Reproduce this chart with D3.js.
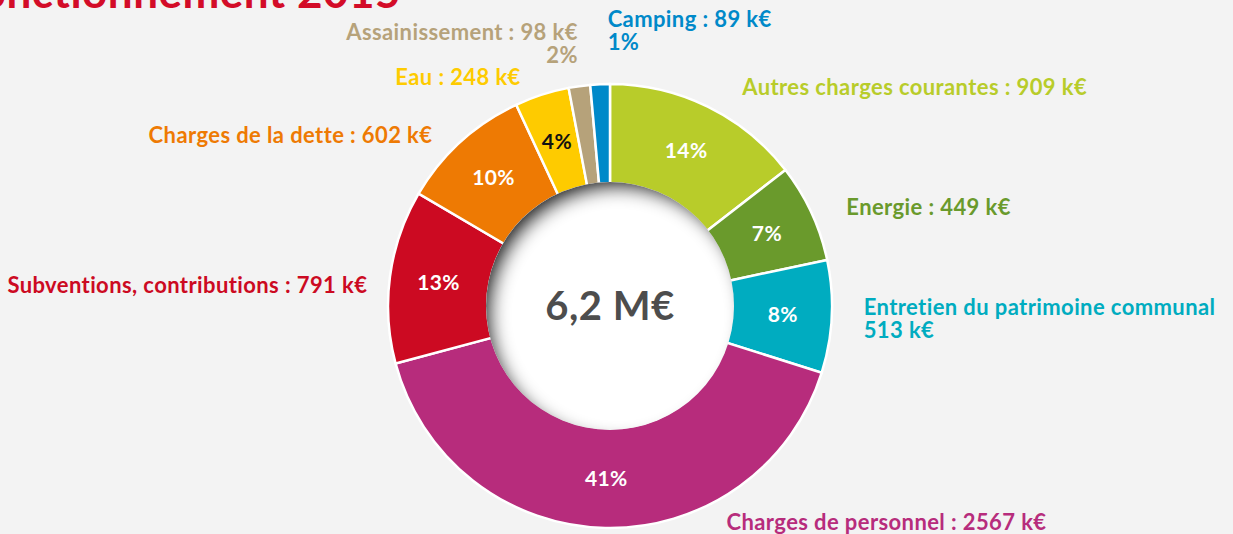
<!DOCTYPE html>
<html>
<head>
<meta charset="utf-8">
<script src="https://cdn.jsdelivr.net/npm/d3@7"></script>
<style>
  html, body { margin: 0; padding: 0; background: #f3f3f3; }
  svg { display: block; font-family: Lato, "Open Sans", sans-serif; font-weight: 700; }
</style>
</head>
<body>
<svg width="1233" height="534"></svg>
<script>
// Data
const categories = [
    "Autres charges courantes", "Energie", "Entretien du patrimoine communal",
    "Charges de personnel", "Subventions, contributions", "Charges de la dette",
    "Eau", "Assainissement", "Camping"
];
const amounts = [909, 449, 513, 2567, 791, 602, 248, 98, 89];   // k€
const percents = [14, 7, 8, 41, 13, 10, 4, 2, 1];
const colors = ["#b8cc2a", "#6a9a2c", "#00acc0", "#b72c7c", "#cc0a22", "#ee7a03", "#fecb00", "#b6a27a", "#0089c9"];
const totalLabel = "6,2 M€";
const title = "Dépenses de fonctionnement 2015";

const width = 1233, height = 534;
const cx = 610, cy = 306;
const outerR = 222, innerR = 124, labelR = 255;

// label layout: nudges from the outer anchor point, anchor, split lines, pct inside/outside
const labelLayout = [
    {dx: 20, dy: 18, anchor: "start"},
    {dx: 5, dy: 16, anchor: "start"},
    {dx: -1, dy: -3, anchor: "start", split: true},
    {dx: 122, dy: -31, anchor: "start"},
    {dx: 10, dy: 21, anchor: "end"},
    {dx: -6, dy: 26, anchor: "end"},
    {dx: -11, dy: 22, anchor: "end"},
    {dx: 3, dy: -13, anchor: "end", pctOutside: true},
    {dx: 9, dy: -24, anchor: "start", pctOutside: true}
];

const data = categories.map((c, i) => ({
    name: c, value: amounts[i], pct: percents[i], color: colors[i], layout: labelLayout[i]
}));

const svg = d3.select("svg");

// inner shadow filter for the centre disc
const defs = svg.append("defs");
const f = defs.append("filter").attr("id", "innerShadow")
    .attr("x", "-50%").attr("y", "-50%").attr("width", "200%").attr("height", "200%");
f.append("feComponentTransfer").attr("in", "SourceAlpha").attr("result", "inv")
    .append("feFuncA").attr("type", "table").attr("tableValues", "1 0");
f.append("feGaussianBlur").attr("in", "inv").attr("stdDeviation", 8).attr("result", "blur");
f.append("feOffset").attr("in", "blur").attr("dx", 8).attr("dy", 9).attr("result", "off");
f.append("feFlood").attr("flood-color", "#222").attr("flood-opacity", 1).attr("result", "col");
f.append("feComposite").attr("in", "col").attr("in2", "off").attr("operator", "in").attr("result", "sh");
f.append("feComposite").attr("in", "sh").attr("in2", "SourceAlpha").attr("operator", "in").attr("result", "sh2");
const merge = f.append("feMerge");
merge.append("feMergeNode").attr("in", "SourceGraphic");
merge.append("feMergeNode").attr("in", "sh2");

// Title (cropped at the top of the picture)
svg.append("text")
    .attr("x", 401)
    .attr("y", 8)
    .attr("text-anchor", "end")
    .attr("fill", "#d30c28")
    .style("font-size", "44px")
    .style("letter-spacing", "0.5px")
    .text(title);

const g = svg.append("g").attr("transform", `translate(${cx},${cy})`);

const pie = d3.pie().value(d => d.value).sort(null);
const arcs = pie(data);

const arc = d3.arc().innerRadius(innerR - 2).outerRadius(outerR);
const midArc = d3.arc().innerRadius(innerR).outerRadius(outerR);
const outArc = d3.arc().innerRadius(labelR).outerRadius(labelR);

g.selectAll(".slice")
    .data(arcs)
    .enter()
    .append("path")
    .attr("class", "slice")
    .attr("d", arc)
    .attr("fill", d => d.data.color)
    .attr("stroke", "#fff")
    .attr("stroke-width", 2.5);

// centre disc
g.append("circle")
    .attr("r", innerR)
    .attr("fill", "#fff")
    .attr("filter", "url(#innerShadow)");

g.append("text")
    .attr("text-anchor", "middle")
    .attr("y", 14)
    .attr("fill", "#4d4d4d")
    .style("font-size", "40px")
    .style("letter-spacing", "0.5px")
    .text(totalLabel);

// percentages inside slices
g.selectAll(".pct")
    .data(arcs.filter(d => !d.data.layout.pctOutside))
    .enter()
    .append("text")
    .attr("class", "pct")
    .attr("transform", d => `translate(${midArc.centroid(d)})`)
    .attr("text-anchor", "middle")
    .attr("dy", "0.35em")
    .attr("fill", d => d.data.name === "Eau" ? "#111" : "#fff")
    .style("font-size", "21px")
    .style("letter-spacing", "0.4px")
    .text(d => d.data.pct + "%");

// outside labels
g.selectAll(".lbl")
    .data(arcs)
    .enter()
    .append("text")
    .attr("class", "lbl")
    .attr("transform", d => {
        const [x, y] = outArc.centroid(d);
        return `translate(${x + d.data.layout.dx},${y + d.data.layout.dy})`;
    })
    .attr("text-anchor", d => d.data.layout.anchor)
    .attr("fill", d => d.data.color)
    .style("font-size", "22px")
    .style("letter-spacing", "0.4px")
    .each(function(d) {
        const t = d3.select(this);
        const lines = [];
        if (d.data.layout.split) {
            lines.push(d.data.name, d.data.value + " k€");
        } else {
            lines.push(d.data.name + " : " + d.data.value + " k€");
        }
        if (d.data.layout.pctOutside) lines.push(d.data.pct + "%");
        lines.forEach((l, i) => {
            t.append("tspan").attr("x", 0).attr("dy", i === 0 ? 0 : 23).text(l);
        });
    });
</script>
</body>
</html>
